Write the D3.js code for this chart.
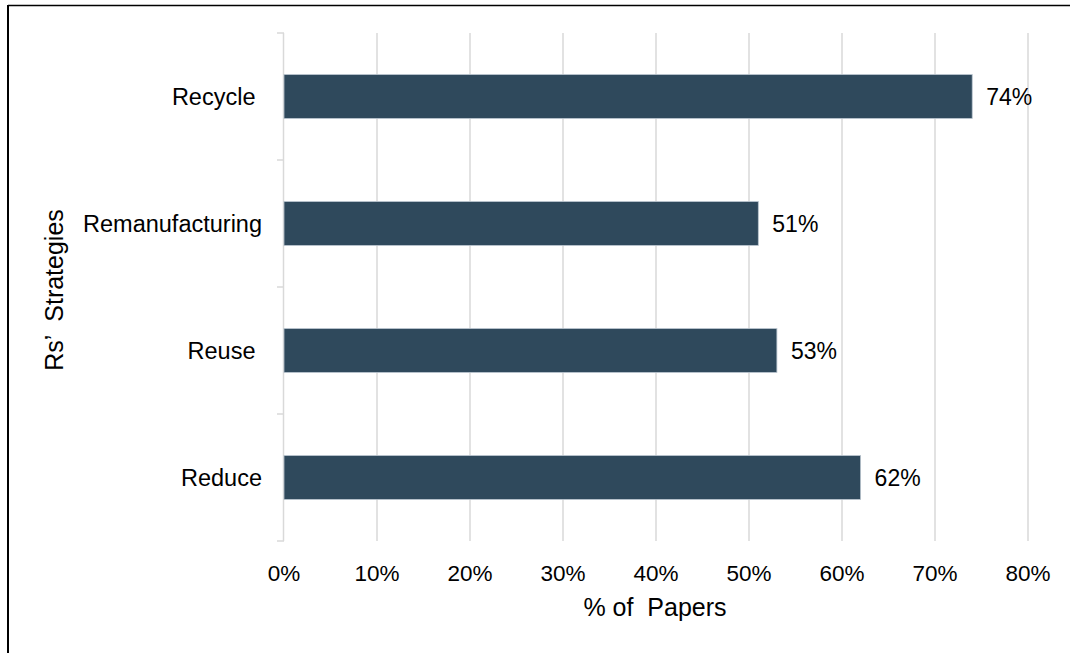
<!DOCTYPE html>
<html>
<head>
<meta charset="utf-8">
<script src="https://cdn.jsdelivr.net/npm/d3@7"></script>
<style>
  html, body { margin: 0; padding: 0; background: #fff; }
  svg { display: block; }
  text { font-family: "Liberation Sans", Arial, sans-serif; fill: #000; white-space: pre; }
</style>
</head>
<body>
<svg id="chart" width="1071" height="653"></svg>
<script>
// Share of papers addressing each R-strategy
const categories = ["Recycle ", "Remanufacturing", "Reuse ", "Reduce"];
const shares = [74, 51, 53, 62];
const tickValues = [0, 10, 20, 30, 40, 50, 60, 70, 80];

const svg = d3.select("#chart");
const W = 1071, H = 653;
const margin = { top: 33, right: 43, bottom: 112, left: 284 };
const innerW = W - margin.left - margin.right;
const innerH = H - margin.top - margin.bottom;

// Frame lines along the top and left edges
svg.append("line").attr("x1", 8).attr("x2", 1070).attr("y1", 5.5).attr("y2", 5.5)
  .attr("stroke", "#000").attr("stroke-width", 1.5);
svg.append("line").attr("x1", 8).attr("x2", 8).attr("y1", 5).attr("y2", H)
  .attr("stroke", "#000").attr("stroke-width", 2);

const g = svg.append("g").attr("transform", `translate(${margin.left},${margin.top})`);

const x = d3.scaleLinear().domain([0, 80]).range([0, innerW]);
const y = d3.scaleBand().domain(categories).range([0, innerH]).paddingInner(0.655).paddingOuter(0.3275);

// Vertical gridlines
g.append("g").selectAll("line").data(tickValues.filter(d => d > 0)).join("line")
  .attr("x1", d => x(d)).attr("x2", d => x(d))
  .attr("y1", 0).attr("y2", innerH)
  .attr("stroke", "#d9d9d9").attr("stroke-width", 1.5);

// Category axis with tick marks between bands
g.append("line").attr("x1", -0.5).attr("x2", -0.5).attr("y1", 0).attr("y2", innerH)
  .attr("stroke", "#d9d9d9").attr("stroke-width", 1.5);
const edgeYs = d3.range(categories.length + 1).map(i => i * innerH / categories.length);
g.append("g").selectAll("line").data(edgeYs).join("line")
  .attr("x1", -7).attr("x2", 0)
  .attr("y1", d => d).attr("y2", d => d)
  .attr("stroke", "#d9d9d9").attr("stroke-width", 1.5);

// Category labels
g.append("g").selectAll("text").data(categories).join("text")
  .attr("x", -22)
  .attr("y", d => y(d) + y.bandwidth() / 2)
  .attr("dy", "0.35em")
  .attr("text-anchor", "end")
  .attr("font-size", 23.5)
  .text(d => d);

// Bars
g.append("g").selectAll("rect").data(categories).join("rect")
  .attr("x", x(0))
  .attr("y", d => y(d))
  .attr("width", (d, i) => x(shares[i]) - x(0))
  .attr("height", y.bandwidth())
  .attr("fill", "#2f495c")
  .attr("stroke", "#b8c4ce")
  .attr("stroke-width", 0.8);

// Value labels
g.append("g").selectAll("text").data(categories).join("text")
  .attr("x", (d, i) => x(shares[i]) + 14)
  .attr("y", d => y(d) + y.bandwidth() / 2)
  .attr("dy", "0.35em")
  .attr("font-size", 23)
  .text((d, i) => shares[i] + "%");

// Percentage tick labels
g.append("g").selectAll("text").data(tickValues).join("text")
  .attr("x", d => x(d))
  .attr("y", innerH + 40)
  .attr("text-anchor", "middle")
  .attr("font-size", 22.5)
  .text(d => d + "%");

// Axis titles
g.append("text")
  .attr("x", innerW / 2 - 1)
  .attr("y", innerH + 75)
  .attr("text-anchor", "middle")
  .attr("font-size", 25)
  .text("% of  Papers");

svg.append("text")
  .attr("transform", `translate(63,${margin.top + innerH / 2 + 3}) rotate(-90)`)
  .attr("text-anchor", "middle")
  .attr("font-size", 25)
  .text("Rs’  Strategies");
</script>
</body>
</html>
